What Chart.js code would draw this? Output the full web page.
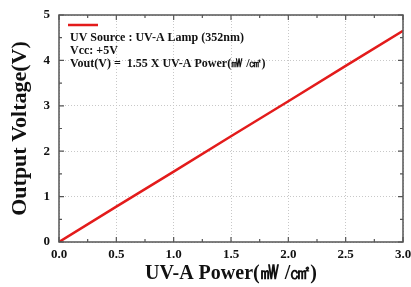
<!DOCTYPE html>
<html>

<head>
    <title>UV-A sensor output</title>
    <script src="https://cdn.jsdelivr.net/npm/chart.js"></script>
    <style>
        html, body { margin: 0; padding: 0; background: #fff; }
        .uv-chart { width: 411px; height: 287px; }
    </style>
</head>

<body>
    <div class="uv-chart">
        <canvas id="chart" width="411" height="287"></canvas>
    </div>

    <script type="text/javascript">
        // values
        const power = [0, 0.5, 1.0, 1.5, 2.0, 2.5, 3.0];
        const voltage = [0, 0.78, 1.55, 2.33, 3.10, 3.88, 4.65];
        const noteLines = [
            'UV Source : UV-A Lamp (352nm)',
            'Vcc: +5V',
            'Vout(V) =  1.55 X UV-A Power(\u33BD /\u33A0)'
        ];
        const xTitle = 'UV-A Power(\u33BD /\u33A0)';
        const yTitle = 'Output Voltage(V)';

        const serif = '"Liberation Serif", "Times New Roman", serif';
        const frameColor = '#555';
        const red = '#e31b1b';

        // frame, inward ticks on all sides and the note box
        const framePlugin = {
            id: 'frame',
            afterDraw(chart) {
                const c = chart.ctx;
                const a = chart.chartArea;
                const xs = chart.scales.x, ys = chart.scales.y;
                c.save();
                c.strokeStyle = frameColor;
                c.lineWidth = 1.5;
                c.strokeRect(a.left, a.top, a.right - a.left, a.bottom - a.top);

                c.lineWidth = 1.2;
                c.beginPath();
                for (let v = 0; v <= 3.0001; v += 0.25) {
                    const px = xs.getPixelForValue(v);
                    const len = Math.abs(v * 2 - Math.round(v * 2)) < 1e-6 ? 5 : 3;
                    c.moveTo(px, a.bottom); c.lineTo(px, a.bottom - len);
                    c.moveTo(px, a.top); c.lineTo(px, a.top + len);
                }
                for (let v = 0; v <= 5.0001; v += 0.5) {
                    const py = ys.getPixelForValue(v);
                    const len = Math.abs(v - Math.round(v)) < 1e-6 ? 5 : 3;
                    c.moveTo(a.left, py); c.lineTo(a.left + len, py);
                    c.moveTo(a.right, py); c.lineTo(a.right - len, py);
                }
                c.stroke();

                // legend swatch + note text
                c.strokeStyle = red;
                c.lineWidth = 2.5;
                c.beginPath();
                c.moveTo(a.left + 9, a.top + 10);
                c.lineTo(a.left + 39, a.top + 10);
                c.stroke();

                c.fillStyle = '#111';
                c.font = 'bold 12px ' + serif;
                c.textBaseline = 'middle';
                noteLines.forEach((t, i) => {
                    c.fillText(t, a.left + 11, a.top + 23 + i * 13);
                });
                c.restore();
            }
        };

        const ctx = document.getElementById('chart');
        let chart = new Chart(ctx, {
            type: 'line',
            data: {
                labels: power,
                datasets: [{
                    label: 'Vout',
                    data: power.map((p, i) => ({ x: p, y: voltage[i] })),
                    borderColor: red,
                    borderWidth: 2.5,
                    pointRadius: 0,
                    fill: false
                }]
            },
            options: {
                responsive: false,
                animation: false,
                layout: { padding: { top: 15, right: 8, left: 0, bottom: 0 }, autoPadding: false },
                plugins: { legend: { display: false }, tooltip: { enabled: false } },
                scales: {
                    x: {
                        type: 'linear',
                        min: 0, max: 3,
                        afterFit: s => { s.height = 45; s.paddingLeft = 0; s.paddingRight = 0; },
                        border: { display: false, dash: [1, 2] },
                        grid: { color: '#c8c8c8', lineWidth: 1, drawTicks: false },
                        ticks: {
                            stepSize: 0.5,
                            padding: 5,
                            color: '#111',
                            maxRotation: 0,
                            font: { family: serif, weight: 'bold', size: 13 },
                            callback: v => v.toFixed(1)
                        },
                        title: {
                            display: true,
                            text: xTitle,
                            color: '#111',
                            padding: { top: 0, bottom: 1 },
                            font: { family: serif, weight: 'bold', size: 20 }
                        }
                    },
                    y: {
                        min: 0, max: 5,
                        afterFit: s => { s.width = 59; s.paddingTop = 0; s.paddingBottom = 0; },
                        border: { display: false, dash: [1, 2] },
                        grid: { color: '#c8c8c8', lineWidth: 1, drawTicks: false },
                        ticks: {
                            stepSize: 1,
                            padding: 9,
                            color: '#111',
                            font: { family: serif, weight: 'bold', size: 13 }
                        },
                        title: {
                            display: true,
                            text: yTitle,
                            color: '#111',
                            padding: { top: 7, bottom: 0 },
                            font: { family: serif, weight: 'bold', size: 22 }
                        }
                    }
                }
            },
            plugins: [framePlugin]
        });
    </script>
</body>

</html>
